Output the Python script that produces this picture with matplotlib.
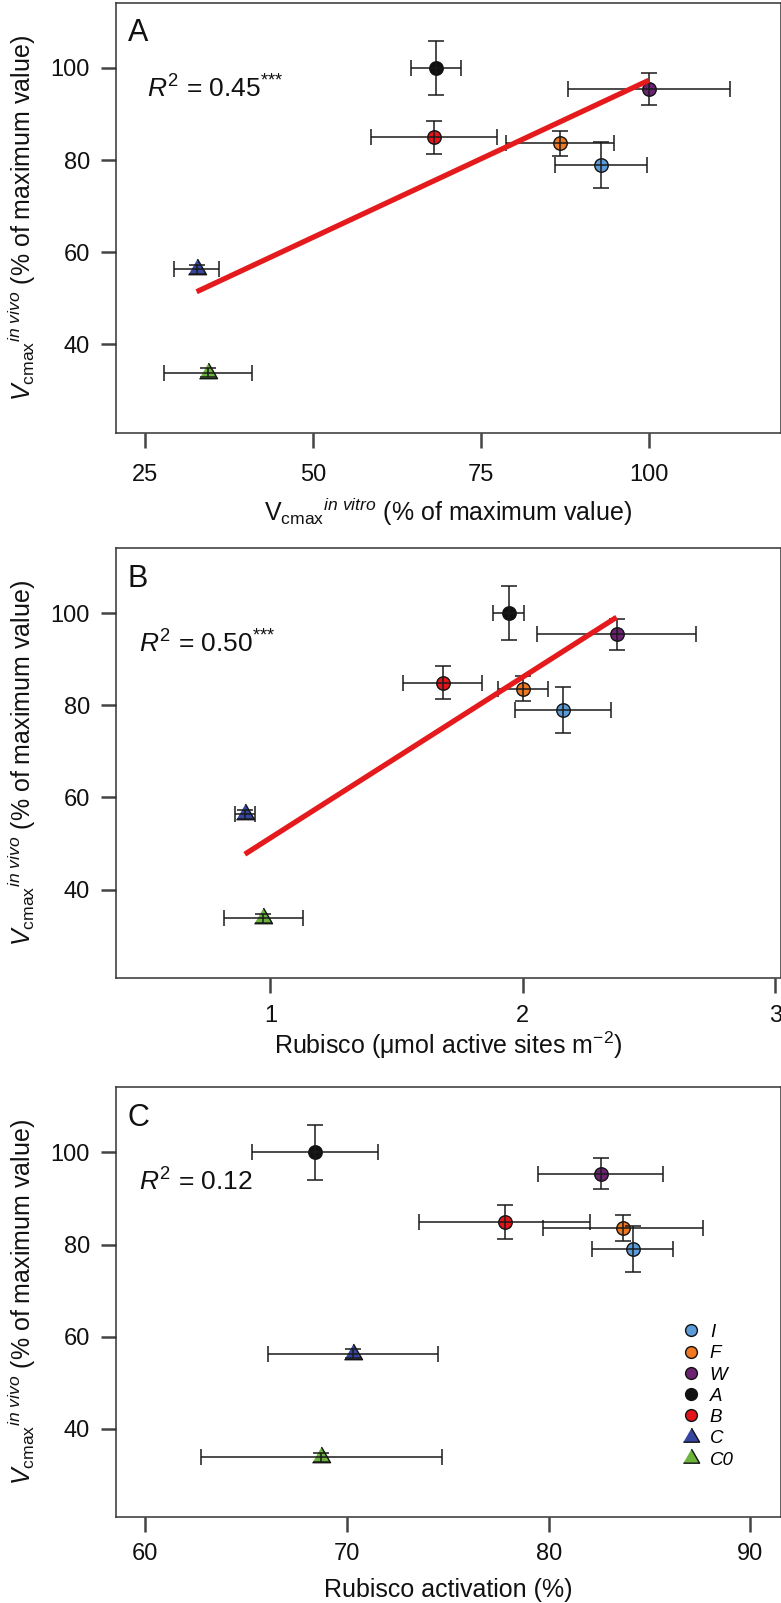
import numpy as np
import matplotlib
matplotlib.use("Agg")
import matplotlib.pyplot as plt
from matplotlib.lines import Line2D

plt.rcParams['font.family'] = ['Liberation Sans', 'DejaVu Sans']
plt.rcParams['mathtext.fontset'] = 'custom'
plt.rcParams['mathtext.rm'] = 'Liberation Sans'
plt.rcParams['mathtext.it'] = 'Liberation Sans:italic'
plt.rcParams['mathtext.bf'] = 'Liberation Sans:bold'
plt.rcParams['mathtext.sf'] = 'Liberation Sans'

# ---------------- data ----------------
groups = ['I', 'F', 'W', 'A', 'B', 'C', 'C0']
colors = ['#5b9bd8', '#f07820', '#6b2270', '#111111', '#e3151b', '#3646a0', '#6cb43c']
shapes = ['o', 'o', 'o', 'o', 'o', 'tri', 'tri']

vivo = [79.0, 83.6, 95.4, 100.0, 84.9, 56.3, 33.8]
vivo_err = [5.0, 2.75, 3.4, 5.9, 3.6, 1.0, 1.0]

vitro = [92.9, 86.8, 100.0, 68.3, 68.0, 32.7, 34.4]
vitro_err = [6.8, 8.0, 12.1, 3.75, 9.4, 3.3, 6.6]

rubisco = [2.159, 2.0, 2.371, 1.944, 1.682, 0.899, 0.972]
rubisco_err = [0.19, 0.10, 0.316, 0.062, 0.155, 0.04, 0.157]

activation = [84.16, 83.69, 82.57, 68.42, 77.82, 70.30, 68.74]
activation_err = [2.0, 3.97, 3.12, 3.14, 4.22, 4.2, 5.99]

fit_slope = [0.682, 34.95, None]
fit_intercept = [29.1, 16.25, None]
r2_text = ['0.45', '0.50', '0.12']
r2_stars = ['***', '***', '']
panel_letters = ['A', 'B', 'C']

xticks_list = [[25, 50, 75, 100], [1, 2, 3], [60, 70, 80, 90]]
yticks = [40, 60, 80, 100]

# ---------------- layout ----------------
W, H = 781, 1603
fig = plt.figure(figsize=(W / 100, H / 100), dpi=100)

ax_left = 116
ax_right = 780.5
ax_h = 430
tops = [2.7, 548.0, 1087.3]

xlims = [(20.7, 119.6), (0.389, 3.02), (58.56, 91.49)]
ylim = (20.8, 114.15)

xlabels = [
    r'V$_{\mathregular{cmax}}$${}^{\mathit{in\ vitro}}$ (% of maximum value)',
    r'Rubisco ($\mathregular{\mu}$mol active sites m$^{\mathregular{-2}}$)',
    'Rubisco activation (%)',
]
ylabel = r'$\mathit{V}_{\mathregular{cmax}}$${}^{\mathit{in\ vivo}}$ (% of maximum value)'
xlabel_base = [-0.2047, -0.1767, -0.1847]
xtick_pad = [12.0, 8.4, 7.6]
r2_pos = [(0.0466, 0.780), (0.0346, 0.757), (0.0346, 0.7595)]

xdata = [vitro, rubisco, activation]
xerrs = [vitro_err, rubisco_err, activation_err]

tri_verts = [(-0.5, -0.2887), (0.5, -0.2887), (0.0, 0.5774)]

def mk(shape):
    return 'o' if shape == 'o' else tri_verts

def msize(shape, legend=False):
    if shape == 'o':
        return 8.5 if legend else 9.7
    return 13.5 if legend else 15.0

spine_col = '#333333'

for i in range(3):
    top = tops[i]
    bottom = top + ax_h
    ax = fig.add_axes([ax_left / W, (H - bottom) / H, (ax_right - ax_left) / W, ax_h / H])
    xs = xdata[i]
    xe = xerrs[i]
    for j, g in enumerate(groups):
        ax.plot([xs[j]], [vivo[j]], linestyle='none', marker=mk(shapes[j]),
                markersize=msize(shapes[j]), markerfacecolor=colors[j],
                markeredgecolor='#111111', markeredgewidth=1.0, zorder=3)
        ax.errorbar([xs[j]], [vivo[j]], xerr=[xe[j]], yerr=[vivo_err[j]],
                    fmt='none', ecolor='#1a1a1a', elinewidth=1.1, capsize=6,
                    capthick=1.1, zorder=4)
    if fit_slope[i] is not None:
        xx = np.array([min(xs), max(xs)])
        ax.plot(xx, fit_slope[i] * xx + fit_intercept[i], color='#e41a1c',
                linewidth=3.8, solid_capstyle='butt', zorder=5)

    ax.set_xlim(*xlims[i])
    ax.set_ylim(*ylim)
    ax.set_xticks(xticks_list[i])
    ax.set_yticks(yticks)
    ax.tick_params(axis='both', direction='out', length=10.8, width=1.8,
                   color='#444444', labelsize=17, labelcolor='#111111')
    ax.tick_params(axis='x', pad=xtick_pad[i])
    ax.tick_params(axis='y', pad=8)
    for s in ax.spines.values():
        s.set_linewidth(1.1)
        s.set_color(spine_col)

    ax.set_ylabel(ylabel, fontsize=18, color='#111111')
    ax.yaxis.set_label_coords(-0.118, 0.5)
    ax.set_xlabel(xlabels[i], fontsize=18, color='#111111')
    ax.xaxis.label.set_va('baseline')
    ax.xaxis.set_label_coords(0.5, xlabel_base[i])

    ax.text(0.018, 0.91, panel_letters[i], transform=ax.transAxes, fontsize=22,
            ha='left', va='baseline', color='#111111')
    star = (r'$^{' + ''.join('{*}' for _ in r2_stars[i]) + '}$') if r2_stars[i] else ''
    ax.text(r2_pos[i][0], r2_pos[i][1], r'$R^{\mathregular{2}}$ = ' + r2_text[i] + star,
            transform=ax.transAxes, fontsize=19, ha='left', va='baseline', color='#111111')

    if i == 2:
        handles = [Line2D([], [], linestyle='none', marker=mk(shapes[j]),
                          markersize=msize(shapes[j], legend=True),
                          markerfacecolor=colors[j], markeredgecolor='#111111',
                          markeredgewidth=1.0) for j in range(len(groups))]
        ax.legend(handles, groups, loc='upper left', bbox_to_anchor=(0.851, 0.4498),
                  frameon=False, handlelength=1.0, handletextpad=0.51,
                  labelspacing=0.22, borderpad=0, borderaxespad=0,
                  prop={'family': 'Liberation Sans', 'style': 'italic', 'size': 13.5})

fig.savefig('out.png', dpi=100)
